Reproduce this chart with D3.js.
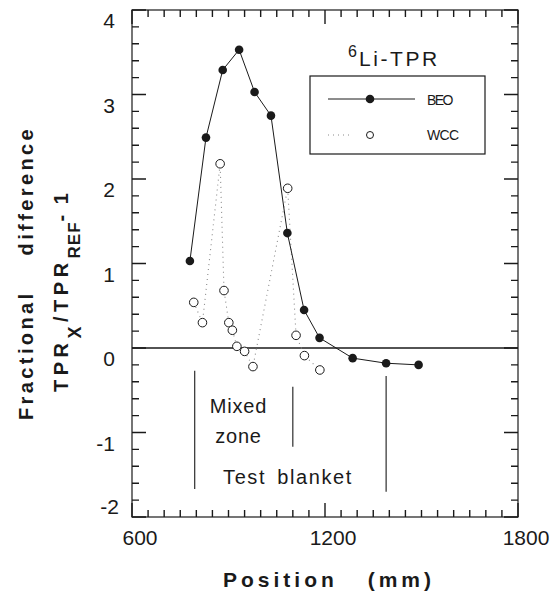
<!DOCTYPE html>
<html>
<head>
<meta charset="utf-8">
<script src="https://cdn.jsdelivr.net/npm/d3@7"></script>
<style>
  body { margin: 0; background: #fff; }
  svg { font-family: "Liberation Sans", Arial, Helvetica, sans-serif; }
</style>
</head>
<body>
<div id="chart"></div>
<script>
// BEO series (filled circles, solid line)
var beoPos = [780, 830, 882, 933, 981, 1032, 1083, 1135, 1183, 1286, 1390, 1491];
var beoVal = [1.03, 2.49, 3.29, 3.53, 3.03, 2.75, 1.36, 0.45, 0.12, -0.12, -0.18, -0.20];
// WCC series (open circles, dotted line)
var wccPos = [792, 819, 874, 886, 901, 912, 926, 950, 976, 1084, 1110, 1136, 1184];
var wccVal = [0.54, 0.30, 2.18, 0.68, 0.30, 0.21, 0.02, -0.04, -0.22, 1.89, 0.15, -0.09, -0.26];
// zone boundary markers: position, top, bottom
var zonePos = [795, 1100, 1390];
var zoneTop = [-0.27, -0.46, -0.33];
var zoneBot = [-1.67, -1.17, -1.70];
var xTickLabels = [600, 1200, 1800];
var yTickLabels = [4, 3, 2, 1, 0, -1];
var seriesNames = ['BEO', 'WCC'];

var width = 556, height = 594;
var margin = { left: 132, right: 38, top: 10, bottom: 77 };
var x = d3.scaleLinear().domain([600, 1800]).range([margin.left, width - margin.right]);
var y = d3.scaleLinear().domain([-2, 4]).range([height - margin.bottom, margin.top]);

var svg = d3.select('#chart').append('svg').attr('width', width).attr('height', height);
var ink = '#1a1a1a';

// inward ticks on all four sides, one path
var xMinor = d3.range(600, 1801, 50);
var yMinor = d3.range(-10, 21, 1).map(function (d) { return d / 5; });
function tickLen(v, major) { return Math.abs(v - Math.round(v / major) * major) < 1e-6 ? 14 : 7; }
var tp = d3.path();
xMinor.forEach(function (d) {
    var l = tickLen(d, 600);
    tp.moveTo(x(d), y(-2)); tp.lineTo(x(d), y(-2) - l);
    tp.moveTo(x(d), y(4)); tp.lineTo(x(d), y(4) + l);
});
yMinor.forEach(function (d) {
    var l = tickLen(d, 1);
    tp.moveTo(x(600), y(d)); tp.lineTo(x(600) + l, y(d));
    tp.moveTo(x(1800), y(d)); tp.lineTo(x(1800) - l, y(d));
});
svg.append('path').attr('d', tp.toString()).style('fill', 'none').style('stroke', ink).style('stroke-width', 1.4);

// frame
svg.append('rect').attr('x', x(600)).attr('y', y(4)).attr('width', x(1800) - x(600)).attr('height', y(-2) - y(4))
    .style('fill', 'none').style('stroke', ink).style('stroke-width', 1.2);

// tick labels (offset like the original)
svg.selectAll('.xlab').data(xTickLabels).enter().append('text')
    .attr('x', function (d) { return x(d) + 8; }).attr('y', y(-2) + 28)
    .style('text-anchor', 'middle').style('font-size', '21px').style('fill', ink)
    .text(function (d) { return d; });
svg.selectAll('.ylab').data(yTickLabels).enter().append('text')
    .attr('x', x(600) - 17).attr('y', function (d) { return y(d) + 18; })
    .style('text-anchor', 'end').style('font-size', '21px').style('fill', ink)
    .text(function (d) { return d; });
svg.append('text').attr('x', x(600) - 13).attr('y', y(-2) - 3)
    .style('text-anchor', 'end').style('font-size', '21px').style('fill', ink).text('-2');

// zero line
svg.append('line').attr('x1', x(600)).attr('x2', x(1800)).attr('y1', y(0)).attr('y2', y(0))
    .style('stroke', ink).style('stroke-width', 1.6);

// zone markers
svg.selectAll('.zone').data(zonePos).enter().append('line')
    .attr('x1', function (d) { return x(d); }).attr('x2', function (d) { return x(d); })
    .attr('y1', function (d, i) { return y(zoneTop[i]); }).attr('y2', function (d, i) { return y(zoneBot[i]); })
    .style('stroke', ink).style('stroke-width', 1.1);
var zoneText = svg.append('g').style('font-size', '20px').style('fill', ink).style('letter-spacing', '0.8px').style('text-anchor', 'middle');
zoneText.append('text').attr('x', x(931)).attr('y', y(-0.77)).text('Mixed');
zoneText.append('text').attr('x', x(931)).attr('y', y(-1.12)).text('zone');
zoneText.append('text').attr('x', x(1085)).attr('y', y(-1.61)).style('letter-spacing', '1.6px').style('word-spacing', '4px').text('Test blanket');

// WCC dotted line + open circles
var wcc = wccPos.map(function (d, i) { return [d, wccVal[i]]; });
var beo = beoPos.map(function (d, i) { return [d, beoVal[i]]; });
var line = d3.line().x(function (d) { return x(d[0]); }).y(function (d) { return y(d[1]); });
svg.append('path').datum(wcc).attr('d', line)
    .style('fill', 'none').style('stroke', '#8a8a8a').style('stroke-width', 1.1).style('stroke-dasharray', '1,4');
svg.selectAll('.wcc').data(wcc).enter().append('circle')
    .attr('cx', function (d) { return x(d[0]); }).attr('cy', function (d) { return y(d[1]); }).attr('r', 4.3)
    .style('fill', '#fff').style('stroke', ink).style('stroke-width', 1);

// BEO solid line + filled circles
svg.append('path').datum(beo).attr('d', line)
    .style('fill', 'none').style('stroke', ink).style('stroke-width', 1);
svg.selectAll('.beo').data(beo).enter().append('circle')
    .attr('cx', function (d) { return x(d[0]); }).attr('cy', function (d) { return y(d[1]); }).attr('r', 4.3)
    .style('fill', ink);

// title
var title = svg.append('text').attr('x', 348).attr('y', 66).style('fill', ink);
title.append('tspan').attr('dy', -9).style('font-size', '16px').text('6');
title.append('tspan').attr('dy', 9).attr('dx', 2).style('font-size', '21px').style('letter-spacing', '2.6px').text('Li-TPR');

// legend
var lg = svg.append('g');
lg.append('rect').attr('x', 310).attr('y', 76).attr('width', 175).attr('height', 78)
    .style('fill', 'none').style('stroke', ink).style('stroke-width', 1.2);
lg.append('line').attr('x1', 328).attr('x2', 415).attr('y1', 99).attr('y2', 99).style('stroke', ink).style('stroke-width', 1);
lg.append('circle').attr('cx', 370).attr('cy', 99).attr('r', 4.3).style('fill', ink);
lg.append('line').attr('x1', 328).attr('x2', 352).attr('y1', 135).attr('y2', 135)
    .style('stroke', '#8a8a8a').style('stroke-dasharray', '1,4');
lg.append('circle').attr('cx', 370).attr('cy', 135).attr('r', 3.5).style('fill', '#fff').style('stroke', ink);
lg.selectAll('.lgt').data(seriesNames).enter().append('text')
    .attr('x', 427).attr('y', function (d, i) { return i ? 140 : 105; })
    .style('font-size', '14px').style('letter-spacing', function (d, i) { return i ? '-0.6px' : '-1.6px'; }).style('fill', ink)
    .text(function (d) { return d; });

// axis titles
svg.append('text').attr('x', 223).attr('y', 587)
    .style('font-size', '21px').style('font-weight', 'bold').style('letter-spacing', '4px').style('word-spacing', '20px').style('fill', ink)
    .text('Position (mm)');
svg.append('text').attr('transform', 'rotate(-90)').attr('x', -420).attr('y', 33)
    .style('font-size', '20px').style('font-weight', 'bold').style('letter-spacing', '3.4px').style('word-spacing', '26px').style('fill', ink)
    .text('Fractional difference');
var yl = svg.append('text').attr('transform', 'rotate(-90)').attr('x', -392).attr('y', 68)
    .style('font-size', '20px').style('font-weight', 'bold').style('letter-spacing', '4.5px').style('fill', ink);
yl.append('tspan').text('TPR');
yl.append('tspan').attr('dy', 13).style('font-size', '18px').text('X');
yl.append('tspan').attr('dy', -13).text('/TPR');
yl.append('tspan').attr('dy', 12).style('font-size', '17px').style('letter-spacing', '1px').text('REF');
yl.append('tspan').attr('dy', -12).text('-');
yl.append('tspan').attr('dx', 6).text('1');
</script>
</body>
</html>
